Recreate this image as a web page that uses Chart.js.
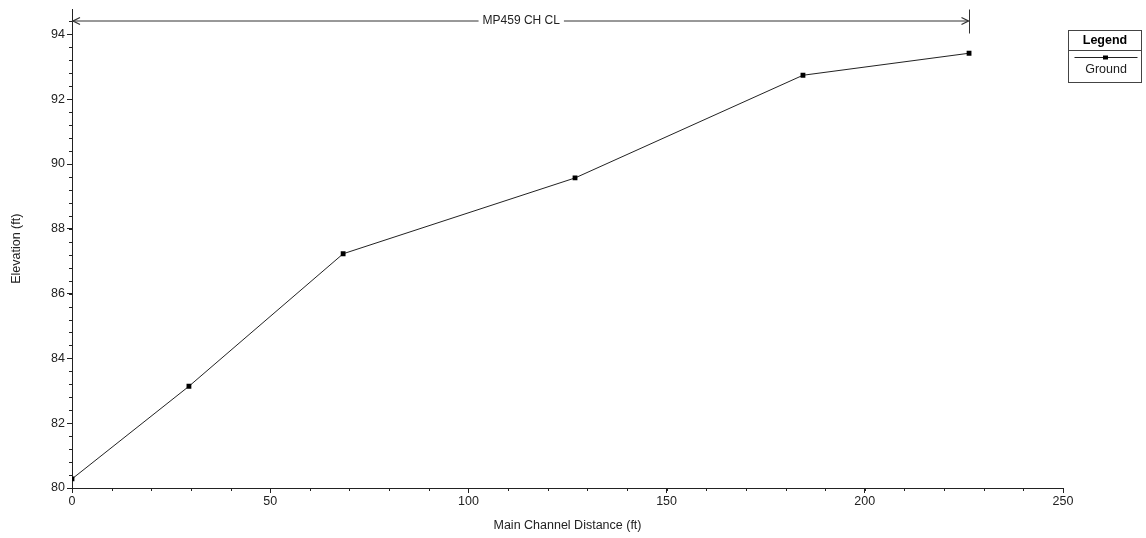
<!DOCTYPE html>
<html>
<head>
<meta charset="utf-8">
<script src="https://cdn.jsdelivr.net/npm/chart.js@4/dist/chart.umd.min.js"></script>
<style>
  html, body { margin: 0; padding: 0; background: #fff; }
  #wrap { width: 1146px; height: 538px; }
</style>
</head>
<body>
<div id="wrap"><canvas id="myChart" width="1146" height="538"></canvas></div>
<script>
// main channel distance (ft) and ground elevation (ft)
const distance = [0, 29.5, 68.4, 126.9, 184.4, 226.3];
const ground = [80.28, 83.14, 87.23, 89.57, 92.74, 93.42];

const yTicks = [80, 82, 84, 86, 88, 90, 92, 94];
const xTicks = [0, 50, 100, 150, 200, 250];

const reachLabel = "MP459 CH CL";
const reachStart = 0;
const reachEnd = 226.3;

const FONT = "Liberation Sans, Arial, sans-serif";
const INK = "#222";

const extras = {
  id: "extras",
  afterDraw(chart) {
    const ctx = chart.ctx;
    const xs = chart.scales.x;
    const ys = chart.scales.y;
    const axisX = xs.getPixelForValue(0);
    const axisY = ys.getPixelForValue(80);

    ctx.save();
    ctx.strokeStyle = INK;
    ctx.lineWidth = 1;

    // minor ticks on y (every 0.4 ft)
    ctx.beginPath();
    for (let v = 80; v < 94.7; v += 0.4) {
      const p = Math.round(ys.getPixelForValue(v)) + 0.5;
      ctx.moveTo(axisX - 3, p);
      ctx.lineTo(axisX, p);
    }
    // minor ticks on x (every 10 ft)
    for (let v = 0; v <= 250; v += 10) {
      const p = Math.round(xs.getPixelForValue(v)) + 0.5;
      ctx.moveTo(p, axisY);
      ctx.lineTo(p, axisY + 3);
    }
    ctx.stroke();

    // reach annotation across the top
    const ay = ys.top + 11.5;
    const x1 = xs.getPixelForValue(reachStart) + 1;
    const x2 = Math.round(xs.getPixelForValue(reachEnd)) + 0.5;
    const mid = (x1 + x2) / 2;
    ctx.font = "12px " + FONT;
    const tw = ctx.measureText(reachLabel).width;
    ctx.strokeStyle = "#333";
    ctx.beginPath();
    ctx.moveTo(x1, ay); ctx.lineTo(mid - tw / 2 - 4, ay);
    ctx.moveTo(mid + tw / 2 + 4, ay); ctx.lineTo(x2 - 1, ay);
    ctx.moveTo(x2, ys.top); ctx.lineTo(x2, ys.top + 24);
    ctx.stroke();
    // arrow heads
    ctx.lineWidth = 1.3;
    ctx.beginPath();
    ctx.moveTo(x1 + 7, ay - 3.5); ctx.lineTo(x1, ay); ctx.lineTo(x1 + 7, ay + 3.5);
    ctx.moveTo(x2 - 8, ay - 3.5); ctx.lineTo(x2 - 1, ay); ctx.lineTo(x2 - 8, ay + 3.5);
    ctx.stroke();
    ctx.lineWidth = 1;
    ctx.fillStyle = INK;
    ctx.textAlign = "center";
    ctx.textBaseline = "middle";
    ctx.fillText(reachLabel, mid, ay);

    // legend box
    const lx = 1068.5, ly = 30.5, lw = 73, lh = 52;
    ctx.strokeStyle = "#444";
    ctx.strokeRect(lx, ly, lw, lh);
    ctx.beginPath();
    ctx.moveTo(lx, 50.5); ctx.lineTo(lx + lw, 50.5);
    ctx.stroke();
    ctx.font = "bold 12.5px " + FONT;
    ctx.fillStyle = "#000";
    ctx.fillText("Legend", lx + lw / 2, 41);
    ctx.strokeStyle = INK;
    ctx.beginPath();
    ctx.moveTo(lx + 6, 57.5); ctx.lineTo(lx + lw - 4, 57.5);
    ctx.stroke();
    ctx.fillStyle = "#000";
    ctx.fillRect(lx + lw / 2 - 2, 55.5, 5, 4);
    ctx.font = "12.5px " + FONT;
    ctx.fillStyle = INK;
    ctx.fillText("Ground", lx + lw / 2 + 1, 70);
    ctx.restore();
  }
};

new Chart("myChart", {
  type: "scatter",
  data: {
    datasets: [
      {
        label: "Ground",
        data: distance.map((d, i) => ({ x: d, y: ground[i] })),
        showLine: true,
        borderColor: INK,
        borderWidth: 1,
        backgroundColor: "#000",
        pointStyle: "rect",
        pointRadius: 3.4,
        pointBorderWidth: 0,
        pointHoverRadius: 3.4,
      },
    ],
  },
  options: {
    responsive: false,
    animation: false,
    events: [],
    layout: { padding: { top: 8, right: 83, left: 0, bottom: 0 } },
    plugins: {
      legend: { display: false },
      tooltip: { enabled: false },
    },
    scales: {
      x: {
        type: "linear",
        min: 0,
        max: 250,
        afterBuildTicks: (s) => { s.ticks = xTicks.map((v) => ({ value: v })); },
        afterFit: (s) => { s.height = 50; },
        grid: { drawOnChartArea: false, drawTicks: true, tickLength: 5, color: INK },
        border: { display: true, color: INK, width: 1 },
        ticks: { color: INK, padding: 1, maxRotation: 0, font: { family: FONT, size: 12.5 } },
        title: {
          display: true,
          text: "Main Channel Distance (ft)",
          color: INK,
          padding: { top: 4, bottom: 5 },
          font: { family: FONT, size: 12.5 },
        },
      },
      y: {
        type: "linear",
        min: 80,
        max: 94.77,
        afterBuildTicks: (s) => { s.ticks = yTicks.map((v) => ({ value: v })); },
        afterFit: (s) => { s.width = 72; },
        grid: { drawOnChartArea: false, drawTicks: true, tickLength: 5, color: INK },
        border: { display: true, color: INK, width: 1 },
        ticks: { color: INK, padding: 2, font: { family: FONT, size: 12.5 } },
        title: {
          display: true,
          text: "Elevation (ft)",
          color: INK,
          padding: { top: 9, bottom: 4 },
          font: { family: FONT, size: 12.5 },
        },
      },
    },
  },
  plugins: [extras],
});
</script>
</body>
</html>
